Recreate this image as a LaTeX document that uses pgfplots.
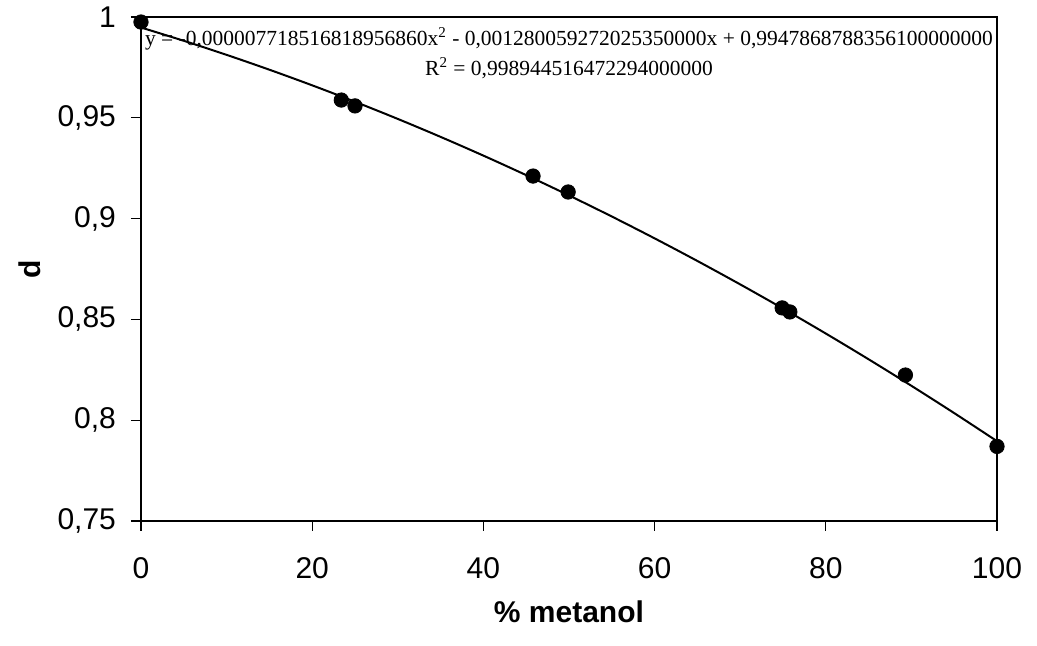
\documentclass[border=0pt]{standalone}
\usepackage{pgfplots}
\pgfplotsset{compat=1.18}
\usepackage{fontspec}
\setmainfont{Liberation Sans}
\newfontfamily\eqfont{Liberation Serif}

% measured points
\pgfplotstableread{
x     d
0     0.9975
23.4  0.9588
25.0  0.9559
45.8  0.9211
49.9  0.9132
74.9  0.8557
75.8  0.8537
89.3  0.8224
100   0.7870
}\dens

% polynomial trendline, values worked out at steps of 5
\pgfplotstableread{
x     d
0     0.994787
5     0.988194
10    0.981214
15    0.973849
20    0.966099
25    0.957962
30    0.949438
35    0.940530
40    0.931235
45    0.921554
50    0.911488
55    0.901035
60    0.890196
65    0.878972
70    0.867362
75    0.855366
80    0.842984
85    0.830215
90    0.817062
95    0.803521
100   0.789596
}\trend

\begin{document}
\begin{tikzpicture}
\begin{axis}[
  name=ax,
  scale only axis,
  width=428pt, height=252pt,
  xmin=0, xmax=100, ymin=0.75, ymax=1,
  xtick={0,20,40,60,80,100},
  ytick={0.75,0.8,0.85,0.9,0.95,1},
  yticklabels={{0,75},{0,8},{0,85},{0,9},{0,95},{1}},
  tick align=outside,
  major tick length=5pt,
  xtick pos=bottom, ytick pos=left,
  axis line style={line width=1pt},
  tick style={black, line width=0.6pt},
  /pgf/number format/assume math mode=true,
  ticklabel style={font=\fontsize{15}{18}\selectfont},
  yticklabel style={xshift=-4pt},
  xticklabel style={yshift=-9.5pt},
  xlabel={\textbf{\% metanol}},
  ylabel={\textbf{d}},
  label style={font=\fontsize{15}{18}\selectfont},
  xlabel style={at={(axis description cs:0.5,0)}, anchor=center, yshift=-45.5pt},
  ylabel style={at={(axis description cs:-0.1297,0.5)}, anchor=center},
  clip=false,
]
\addplot[only marks, mark=*, mark size=3.6pt, black] table[x=x, y=d] {\dens};
\addplot[black, line width=1pt, smooth, no markers] table[x=x, y=d] {\trend};
\node[font=\eqfont\fontsize{10.75}{12}\selectfont, anchor=center, yshift=-11pt]
  at (rel axis cs:0.5,1)
  {y = -0,000007718516818956860x\textsuperscript{2} - 0,001280059272025350000x + 0,9947868788356100000000};
\node[font=\eqfont\fontsize{10.75}{12}\selectfont, anchor=center, yshift=-25.5pt]
  at (rel axis cs:0.5,1)
  {R\textsuperscript{2} = 0,998944516472294000000};
\end{axis}
\pgfresetboundingbox
\useasboundingbox ([xshift=-70.5pt, yshift=-62.5pt]ax.south west) rectangle ([xshift=20pt, yshift=8.5pt]ax.north east);
\end{tikzpicture}
\end{document}
